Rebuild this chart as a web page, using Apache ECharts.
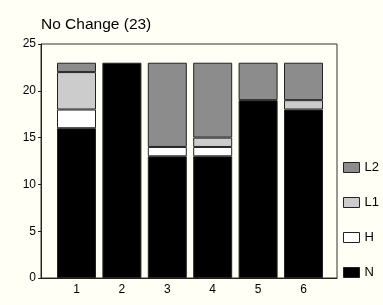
<!DOCTYPE html>
<html><head><meta charset="utf-8">
<script src="https://cdn.jsdelivr.net/npm/echarts@6/dist/echarts.min.js"></script>
<style>html,body{margin:0;padding:0;background:#fffff5}#c{width:383px;height:305px}</style>
</head><body><div id="c"></div>
<script>
const categories = ['1', '2', '3', '4', '5', '6'];
const N  = [16, 23, 13, 13, 19, 18];
const H  = [2, '-', 1, 1, '-', '-'];
const L1 = [4, '-', '-', 1, '-', 1];
const L2 = [1, '-', 9, 8, 4, 4];
const yTicks = [0, 5, 10, 15, 20, 25];
const titleText = 'No Change (23)';

const colors = { N: '#000000', H: '#ffffff', L1: '#cccccc', L2: '#8c8c8c' };
function mk(name, vals) {
  return {
    name, type: 'bar', stack: 'all', barWidth: 39, xAxisIndex: 1, yAxisIndex: 1,
    data: vals,
    itemStyle: { color: colors[name], borderColor: '#222', borderWidth: 1 },
    emphasis: { disabled: true }
  };
}
const chart = echarts.init(document.getElementById('c'));
chart.setOption({
  backgroundColor: '#fffff5',
  animation: false,
  title: { text: titleText, left: 36, top: 12, textStyle: { fontFamily: 'Liberation Sans', fontSize: 15.5, fontWeight: 'normal', color: '#000' } },
  legend: {
    orient: 'vertical', left: 338, top: 156, itemWidth: 16, itemHeight: 10, itemGap: 22, icon: 'rect',
    data: ['L2', 'L1', 'H', 'N'],
    textStyle: { fontFamily: 'Liberation Sans', fontSize: 13, color: '#000' },
    itemStyle: { borderColor: '#222', borderWidth: 1 }
  },
  grid: [
    { left: 41, right: 46, top: 44, bottom: 27, show: true, borderColor: '#333', borderWidth: 1, backgroundColor: 'transparent' },
    { left: 53.8, right: 56.8, top: 44, bottom: 27 }
  ],
  xAxis: [
    { type: 'value', gridIndex: 0, min: 0, max: 1, show: true,
      splitLine: { show: false }, axisTick: { show: false }, axisLabel: { show: false },
      axisLine: { show: true, lineStyle: { color: '#222' } } },
    { type: 'category', gridIndex: 1, data: categories,
      axisLine: { show: false }, axisTick: { show: false },
      axisLabel: { color: '#000', fontFamily: 'Liberation Sans', fontSize: 12, margin: 6 } }
  ],
  yAxis: [
    { type: 'value', gridIndex: 0, min: 0, max: 25, interval: 5,
      splitLine: { show: false },
      axisLine: { show: true, lineStyle: { color: '#222' } },
      axisTick: { show: true, length: 3, lineStyle: { color: '#222' } },
      axisLabel: { color: '#000', fontFamily: 'Liberation Sans', fontSize: 12, margin: 5 } },
    { type: 'value', gridIndex: 1, min: 0, max: 25, interval: 5, show: false }
  ],
  series: [mk('N', N), mk('H', H), mk('L1', L1), mk('L2', L2)]
});
</script></body></html>
